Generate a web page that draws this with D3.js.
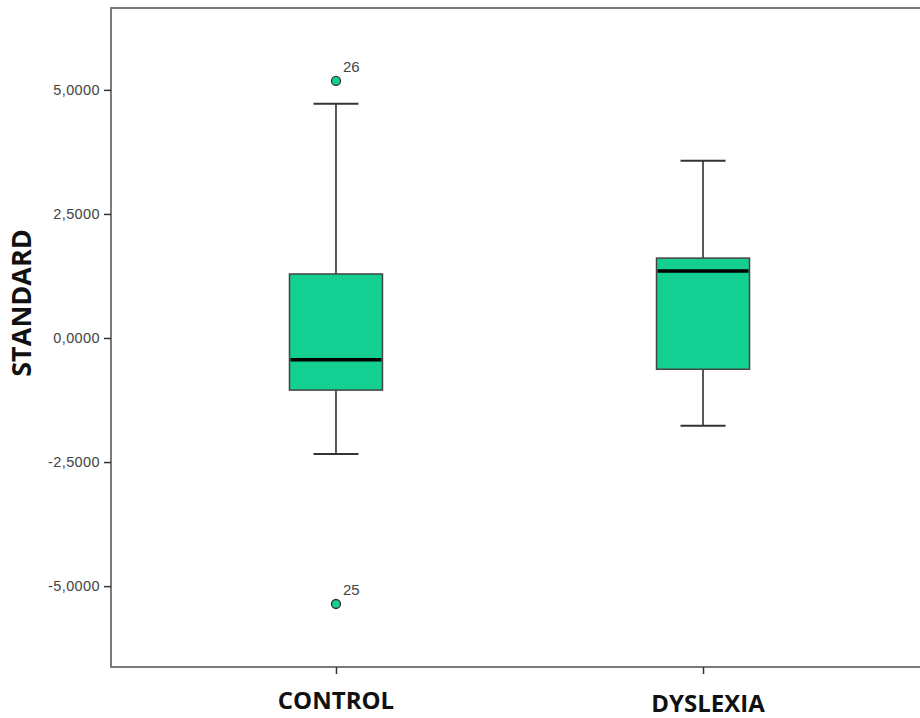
<!DOCTYPE html>
<html><head><meta charset="utf-8">
<script src="https://cdn.jsdelivr.net/npm/d3@7"></script>
<style>body{margin:0;background:#fff}svg{display:block}</style>
</head><body>
<svg id="c" width="920" height="718"></svg>
<script>
const categories = ["CONTROL", "DYSLEXIA"];
const q1 = [-1.05, -0.63];
const median = [-0.44, 1.35];
const q3 = [1.29, 1.61];
const whiskerLow = [-2.34, -1.77];
const whiskerHigh = [4.72, 3.57];
const outlierCat = ["CONTROL", "CONTROL"];
const outlierVal = [5.18, -5.36];
const outlierLabel = ["26", "25"];
const yTicks = [5, 2.5, 0, -2.5, -5];
const yTitle = "STANDARD";

const svg = d3.select("#c");
const L = 111, T = 8, B = 667, R = 928;
const y = d3.scaleLinear().domain([-6.63, 6.65]).range([B, T]);
const x = d3.scalePoint().domain(categories).range([L, R]).padding(0.613);
const boxW = 93, capW = 45;
const green = "#13cf92";

// frame
svg.append("rect").attr("x", L).attr("y", T).attr("width", R - L).attr("height", B - T)
  .attr("fill", "none").attr("stroke", "#7a7a7a").attr("stroke-width", 2);

// y axis
const fmt = v => (v < 0 ? "-" : "") + Math.abs(v).toFixed(4).replace(".", ",");
const ya = svg.append("g").attr("transform", `translate(${L},0)`)
  .call(d3.axisLeft(y).tickValues(yTicks).tickSize(7).tickFormat(fmt));
ya.select(".domain").remove();
ya.selectAll(".tick line").attr("stroke", "#333").attr("stroke-width", 1.5);
ya.selectAll(".tick text").attr("fill", "#444").attr("font-family", "Liberation Sans, Arial, sans-serif")
  .attr("font-size", 14.5).attr("letter-spacing", 0.4).attr("x", -11);

// x axis
const xa = svg.append("g").attr("transform", `translate(0,${B})`)
  .call(d3.axisBottom(x).tickSize(7).tickFormat(""));
xa.select(".domain").remove();
xa.selectAll(".tick line").attr("stroke", "#333").attr("stroke-width", 1.5);
svg.selectAll(".catlab").data(categories).enter().append("text")
  .attr("x", (d, i) => x(d) + (i === 0 ? 0 : 5)).attr("y", (d, i) => i === 0 ? 709 : 712)
  .attr("text-anchor", "middle").attr("font-family", "Open Sans, Liberation Sans, sans-serif")
  .attr("font-weight", "bold").attr("font-size", 24).attr("fill", "#111").text(d => d);

// y title
svg.append("text").attr("transform", "translate(31,303) rotate(-90)")
  .attr("text-anchor", "middle").attr("font-family", "Open Sans, Liberation Sans, sans-serif")
  .attr("font-weight", "bold").attr("font-size", 27).attr("fill", "#111").text(yTitle);

// boxes
const g = svg.append("g");
categories.forEach((c, i) => {
  const cx = x(c);
  const line = (x1, y1, x2, y2, w, col) => g.append("line").attr("x1", x1).attr("y1", y1)
    .attr("x2", x2).attr("y2", y2).attr("stroke", col || "#222").attr("stroke-width", w);
  line(cx, y(whiskerHigh[i]), cx, y(q3[i]), 1.5);
  line(cx, y(q1[i]), cx, y(whiskerLow[i]), 1.5);
  line(cx - capW / 2, y(whiskerHigh[i]), cx + capW / 2, y(whiskerHigh[i]), 2, "#333");
  line(cx - capW / 2, y(whiskerLow[i]), cx + capW / 2, y(whiskerLow[i]), 2, "#333");
  g.append("rect").attr("x", cx - boxW / 2).attr("y", y(q3[i])).attr("width", boxW)
    .attr("height", y(q1[i]) - y(q3[i])).attr("fill", green).attr("stroke", "#444").attr("stroke-width", 1.5);
  line(cx - boxW / 2 + 1, y(median[i]), cx + boxW / 2 - 1, y(median[i]), 3.5, "#000");
});

// outliers
outlierVal.forEach((v, i) => {
  const cx = x(outlierCat[i]);
  g.append("circle").attr("cx", cx).attr("cy", y(v)).attr("r", 4.5)
    .attr("fill", green).attr("stroke", "#333").attr("stroke-width", 1.3);
  g.append("text").attr("x", cx + 7).attr("y", y(v) - 9).attr("font-family", "Liberation Sans, Arial, sans-serif")
    .attr("font-size", 15).attr("fill", "#444").text(outlierLabel[i]);
});
</script>
</body></html>
